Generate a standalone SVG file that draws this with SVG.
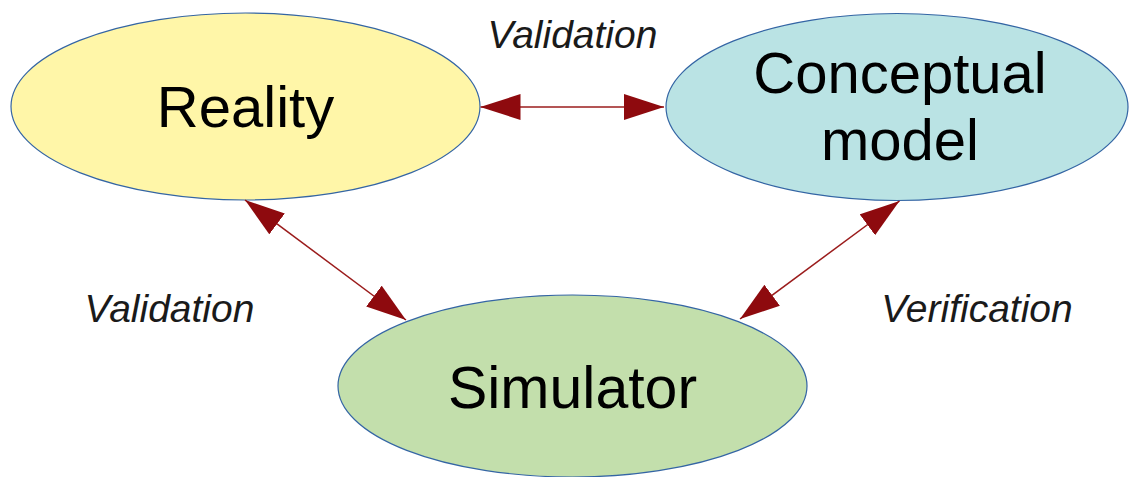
<svg xmlns="http://www.w3.org/2000/svg" width="1129" height="477" viewBox="0 0 1129 477">
<style>
.node{stroke:#3465a4;stroke-width:1.2}
.nt{font-family:"Liberation Sans",Arial,sans-serif;font-size:58px;fill:#000;text-anchor:middle}
.lb{font-family:"Liberation Sans",Arial,sans-serif;font-size:39px;font-style:italic;fill:#1a1a1a;text-anchor:middle}
.conn{stroke:#9b1c1c;stroke-width:1.5;fill:none;marker-start:url(#ah);marker-end:url(#ah)}
</style>
<defs>
<marker id="ah" viewBox="0 0 40 26" markerWidth="40" markerHeight="26" refX="40" refY="13" orient="auto-start-reverse" markerUnits="userSpaceOnUse">
<path d="M0,0 L40,13 L0,26 z" fill="#8e0a0e"/>
</marker>
</defs>
<rect width="1129" height="477" fill="#fff"/>
<g id="reality">
<ellipse class="node" cx="245.5" cy="106.5" rx="234.5" ry="93.5" fill="#fff6a8"/>
<text class="nt" x="245.5" y="127">Reality</text>
</g>
<g id="conceptual-model">
<ellipse class="node" cx="897" cy="107" rx="231" ry="93.5" fill="#bae3e4"/>
<text class="nt" x="900" y="93">Conceptual</text>
<text class="nt" x="900" y="160">model</text>
</g>
<g id="simulator">
<ellipse class="node" cx="572.5" cy="386" rx="234.5" ry="91" fill="#c3dfac"/>
<text class="nt" x="572.5" y="408" style="font-size:59px">Simulator</text>
</g>
<g id="connectors">
<line class="conn" x1="480.5" y1="107" x2="664" y2="107"/>
<line class="conn" x1="245" y1="200" x2="406" y2="320"/>
<line class="conn" x1="899.5" y1="201" x2="740" y2="319"/>
</g>
<g id="labels">
<text class="lb" x="572.5" y="48">Validation</text>
<text class="lb" x="169.5" y="322">Validation</text>
<text class="lb" x="977" y="322">Verification</text>
</g>
</svg>
